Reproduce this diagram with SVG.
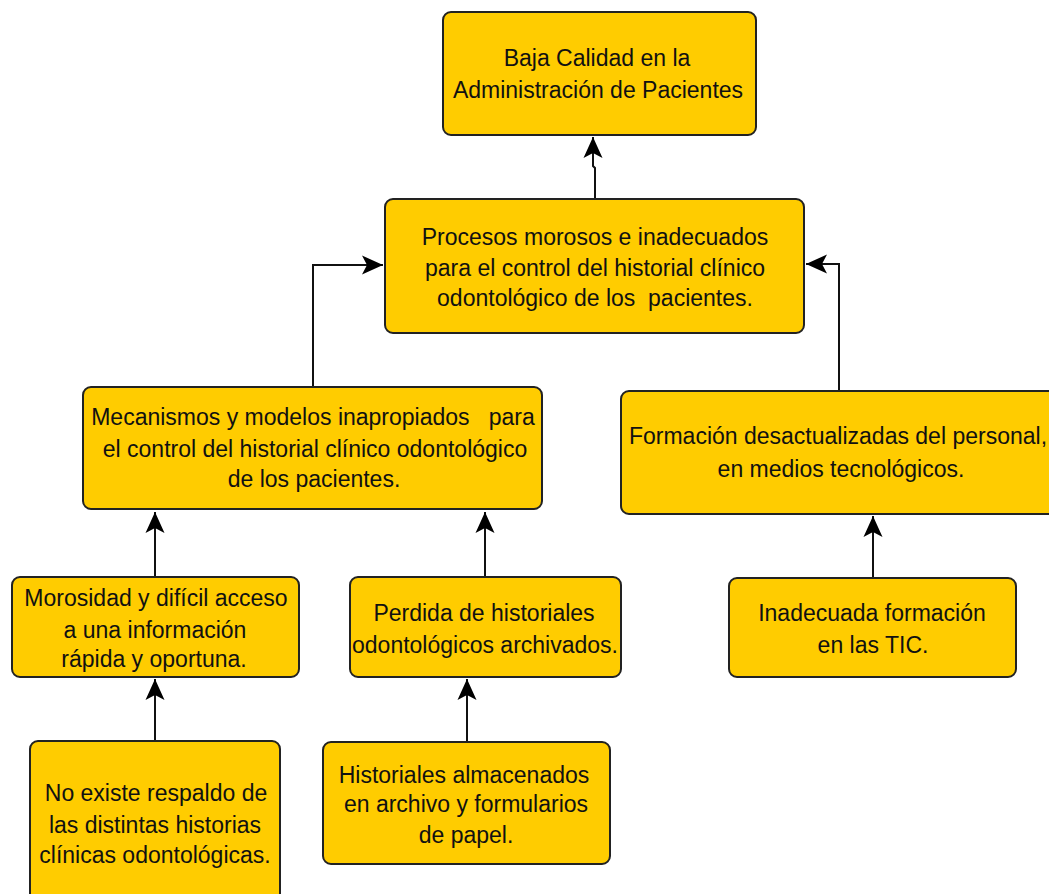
<svg xmlns="http://www.w3.org/2000/svg" width="1049" height="894" viewBox="0 0 1049 894">
<style>
.box{fill:#FFCC00;stroke:#222;stroke-width:2}
.t{font-family:"Liberation Sans",Arial,sans-serif;font-size:23px;fill:#111;text-anchor:middle;white-space:pre}
.c{fill:none;stroke:#111;stroke-width:2}
</style>
<defs>
<marker id="arr" markerUnits="userSpaceOnUse" markerWidth="24" markerHeight="22" viewBox="-22 -11 24 22" refX="0" refY="0" orient="auto">
<path d="M0,0 L-21,-9.5 L-16,0 L-21,9.5 Z" fill="#000"/>
</marker>
</defs>
<rect width="1049" height="894" fill="#fff"/>
<g id="connectors">
<path class="c" d="M595,199 L595,168 L593,166 L593,137" marker-end="url(#arr)"/>
<path class="c" d="M313,387 L313,265 L383,265" marker-end="url(#arr)"/>
<path class="c" d="M839,391 L839,264 L806,264" marker-end="url(#arr)"/>
<path class="c" d="M155,577 L155,512" marker-end="url(#arr)"/>
<path class="c" d="M485,577 L485,512" marker-end="url(#arr)"/>
<path class="c" d="M873,578 L873,516" marker-end="url(#arr)"/>
<path class="c" d="M155,741 L155,679" marker-end="url(#arr)"/>
<path class="c" d="M467,742 L467,679" marker-end="url(#arr)"/>
</g>
<g id="n1">
<rect class="box" x="443" y="12" width="313" height="123" rx="8"/>
<text class="t" x="597" y="66">Baja Calidad en la</text>
<text class="t" x="598" y="98">Administración de Pacientes</text>
</g>
<g id="n2">
<rect class="box" x="385" y="199" width="419" height="134" rx="8"/>
<text class="t" x="595" y="245">Procesos morosos e inadecuados</text>
<text class="t" x="595" y="276">para el control del historial clínico</text>
<text class="t" x="595" y="306">odontológico de los  pacientes.</text>
</g>
<g id="n3">
<rect class="box" x="83" y="387" width="459" height="122" rx="8"/>
<text class="t" x="313" y="425">Mecanismos y modelos inapropiados   para</text>
<text class="t" x="315" y="457">el control del historial clínico odontológico</text>
<text class="t" x="314" y="487">de los pacientes.</text>
</g>
<g id="n4">
<rect class="box" x="621" y="391" width="440" height="123" rx="8"/>
<text class="t" x="838" y="444">Formación desactualizadas del personal,</text>
<text class="t" x="841" y="477">en medios tecnológicos.</text>
</g>
<g id="n5">
<rect class="box" x="12" y="577" width="287" height="100" rx="8"/>
<text class="t" x="156" y="606">Morosidad y difícil acceso</text>
<text class="t" x="155" y="638">a una información</text>
<text class="t" x="154" y="667">rápida y oportuna.</text>
</g>
<g id="n6">
<rect class="box" x="350" y="577" width="271" height="100" rx="8"/>
<text class="t" x="484" y="621">Perdida de historiales</text>
<text class="t" x="485" y="653">odontológicos archivados.</text>
</g>
<g id="n7">
<rect class="box" x="729" y="578" width="287" height="99" rx="8"/>
<text class="t" x="872" y="621">Inadecuada formación</text>
<text class="t" x="873" y="653">en las TIC.</text>
</g>
<g id="n8">
<rect class="box" x="30" y="741" width="250" height="165" rx="8"/>
<text class="t" x="156" y="801">No existe respaldo de</text>
<text class="t" x="155" y="833">las distintas historias</text>
<text class="t" x="155" y="863">clínicas odontológicas.</text>
</g>
<g id="n9">
<rect class="box" x="323" y="742" width="287" height="122" rx="8"/>
<text class="t" x="464" y="783">Historiales almacenados</text>
<text class="t" x="466" y="812">en archivo y formularios</text>
<text class="t" x="466" y="843">de papel.</text>
</g>
</svg>
